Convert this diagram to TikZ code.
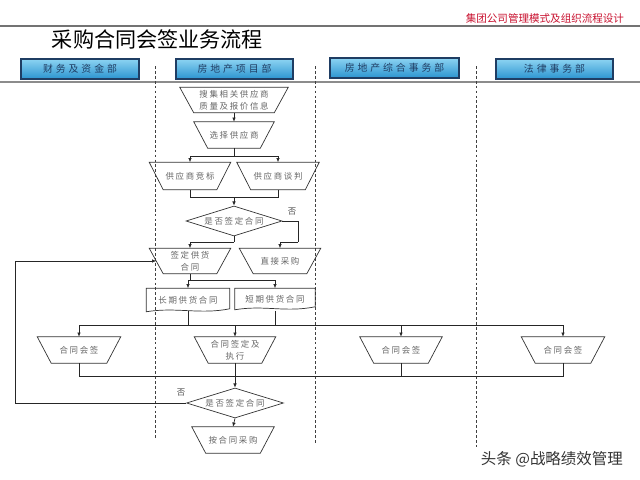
\documentclass[tikz,border=0pt]{standalone}
\usepackage{fontspec}
\newfontfamily\cjk{Noto Sans CJK SC}
\newfontfamily\cjkwide{Noto Sans CJK SC}[LetterSpace=20]
\newfontfamily\cjklane{Noto Sans CJK SC}[LetterSpace=30]
\usetikzlibrary{shapes.geometric,arrows.meta}
\newcommand\px{0.025cm}
\definecolor{lanetop}{HTML}{8CD3F2}
\definecolor{lanebot}{HTML}{2B94D0}
\definecolor{laneedge}{HTML}{1F3D63}
\definecolor{topred}{HTML}{C8102E}

\tikzset{
  boxline/.style={draw=black!80, line width=0.5pt},
  flowbox/.style={rectangle, draw=none, text=black!60,
    font=\cjkwide\fontsize{6}{8.5}\selectfont, align=center, inner sep=0pt, minimum height=25*\px,
    append after command={\pgfextra{\draw[boxline] (\tikzlastnode.north west) -- (\tikzlastnode.north east)
      -- ([xshift=-14*\px]\tikzlastnode.south east) -- ([xshift=14*\px]\tikzlastnode.south west) -- cycle;}}},
  docbox/.style={rectangle, draw=none, text=black!60, font=\cjkwide\fontsize{6}{8.5}\selectfont,
    inner sep=0pt, minimum height=23*\px},
  askbox/.style={diamond, aspect=3.3, draw=black!80, line width=0.5pt, text=black!60,
    font=\cjkwide\fontsize{6}{8.5}\selectfont, inner sep=0pt, minimum width=96*\px, minimum height=30*\px},
  lanehead/.style={rectangle, draw=laneedge, line width=0.9pt, top color=lanetop, bottom color=lanebot,
    text=laneedge, font=\cjklane\fontsize{7}{8}\selectfont, minimum height=20*\px},
  link/.style={black!85, line width=0.5pt},
}

\begin{document}
\begin{tikzpicture}[x=0.025cm, y=-0.025cm, >={Latex[length=3pt,width=2.6pt]}]
  \useasboundingbox (0,0) rectangle (640,480);

  % header
  \node[text=topred, font=\cjk\fontsize{7.5}{9}\selectfont, anchor=east] (subtitle) at (629,18) {集团公司管理模式及组织流程设计};
  \draw[black!55, line width=0.8pt] (0,26) -- (640,26);
  \node[font=\cjk\fontsize{15}{18}\selectfont, anchor=west] (title) at (47,39) {采购合同会签业务流程};

  % lanes
  \node[lanehead, minimum width=118*\px] (finlane) at (80,69) {财务及资金部};
  \node[lanehead, minimum width=117*\px] (projlane) at (234.5,69) {房地产项目部};
  \node[lanehead, minimum width=129*\px] (genlane) at (394.5,68) {房地产综合事务部};
  \node[lanehead, minimum width=117*\px] (lawlane) at (554.5,69) {法律事务部};
  \draw[black!45, line width=1.6pt] (0,82) -- (640,82);
  \draw[black!75, line width=0.5pt, dash pattern=on 2pt off 1.5pt] (155,66) -- (155,440);
  \draw[black!75, line width=0.5pt, dash pattern=on 2pt off 1.5pt] (315,66) -- (315,443);
  \draw[black!75, line width=0.5pt, dash pattern=on 2pt off 1.5pt] (476,66) -- (476,447);

  % flow nodes
  \node[flowbox, minimum width=108*\px] (collect) at (234,100) {搜集相关供应商\\质量及报价信息};
  \node[flowbox, minimum width=80*\px, minimum height=26*\px] (choose) at (234,135) {选择供应商};
  \node[flowbox, minimum width=81*\px, minimum height=27*\px] (bid) at (190,176) {供应商竞标};
  \node[flowbox, minimum width=82*\px, minimum height=27*\px] (talk) at (278,176) {供应商谈判};
  \node[askbox] (ask1) at (234,221) {是否签定合同};
  \node[flowbox, minimum width=81*\px] (sign) at (190,261) {签定供货\\合同};
  \node[flowbox, minimum width=81*\px] (direct) at (280,261) {直接采购};
  \node[docbox, minimum width=83*\px] (longc) at (188,300) {长期供货合同};
  \node[docbox, minimum width=80*\px, minimum height=21*\px] (shortc) at (275,299) {短期供货合同};
  \draw[boxline] (longc.north west) -- (longc.north east) -- ([yshift=3*\px]longc.south east)
    .. controls ([xshift=-30*\px,yshift=-3*\px]longc.south east) and ([xshift=30*\px,yshift=5*\px]longc.south west) .. (longc.south west) -- cycle;
  \draw[boxline] (shortc.north west) -- (shortc.north east) -- ([yshift=3*\px]shortc.south east)
    .. controls ([xshift=-30*\px,yshift=-3*\px]shortc.south east) and ([xshift=30*\px,yshift=5*\px]shortc.south west) .. (shortc.south west) -- cycle;
  \node[flowbox, minimum width=83*\px, minimum height=26*\px] (finsign) at (79,350) {合同会签};
  \node[flowbox, minimum width=81*\px, minimum height=26*\px] (exec) at (235,350) {合同签定及\\执行};
  \node[flowbox, minimum width=82*\px, minimum height=26*\px] (gensign) at (401,350) {合同会签};
  \node[flowbox, minimum width=83*\px, minimum height=26*\px] (lawsign) at (563,350) {合同会签};
  \node[askbox, minimum width=97*\px] (ask2) at (235,403) {是否签定合同};
  \node[flowbox, minimum width=82*\px, minimum height=26*\px] (buy) at (233,440) {按合同采购};

  % junctions
  \coordinate (j1) at (234,156);
  \coordinate (j2) at (234,197);
  \coordinate (j3) at (298,242);
  \coordinate (j4) at (234,242);
  \coordinate (j5) at (190,280);
  \coordinate (b1) at (79,325);
  \coordinate (b2) at (563,325);
  \coordinate (b3) at (79,376);
  \coordinate (b4) at (563,376);
  \coordinate (loop) at (15,403);

  % connectors
  \draw[link, ->] (collect) -- (choose);
  \draw[link] (choose.south) -- (j1);
  \draw[link, ->] (j1) -| (bid.north);
  \draw[link, ->] (j1) -| (talk.north);
  \draw[link] (bid.south) |- (j2);
  \draw[link] (talk.south) |- (j2);
  \draw[link, ->] (j2) -- (ask1.north);
  \draw[link] (ask1.east) -| (j3);
  \draw[link, ->] (j3) -| (direct.north);
  \draw[link] (ask1.south) -- (j4);
  \draw[link, ->] (j4) -| (sign.north);
  \node[font=\cjk\fontsize{6}{7}\selectfont, text=black!70] (no1) at (292,212) {否};
  \draw[link] (sign.south) -- (j5);
  \draw[link, ->] (j5) -| (longc.north);
  \draw[link, ->] (j5) -| (shortc.north);
  \draw[link] ([yshift=1*\px]longc.south) -- (longc.south |- b1);
  \draw[link] ([yshift=-1*\px]shortc.south) -- (shortc.south |- b1);
  \draw[link] (b1) -- (b2);
  \draw[link, ->] (b1) -- (finsign.north);
  \draw[link, ->] (exec.north |- b1) -- (exec.north);
  \draw[link, ->] (gensign.north |- b1) -- (gensign.north);
  \draw[link, ->] (b2) -- (lawsign.north);
  \draw[link] (finsign.south) -- (b3) -- (b4) -- (lawsign.south);
  \draw[link] (gensign.south) -- (gensign.south |- b3);
  \draw[link, ->] (exec.south) -- (ask2.north);
  \draw[link, ->] (ask2.south) -- (buy.north);
  \draw[link, ->] (ask2.west) -- (loop) |- ([xshift=7*\px]sign.west);
  \node[font=\cjk\fontsize{6}{7}\selectfont, text=black!70] (no2) at (181,393) {否};

  % watermark
  \node[font=\cjk\fontsize{11}{13}\selectfont, text=black!80, anchor=west] (mark) at (476,459) {头条 @战略绩效管理};
\end{tikzpicture}
\end{document}
